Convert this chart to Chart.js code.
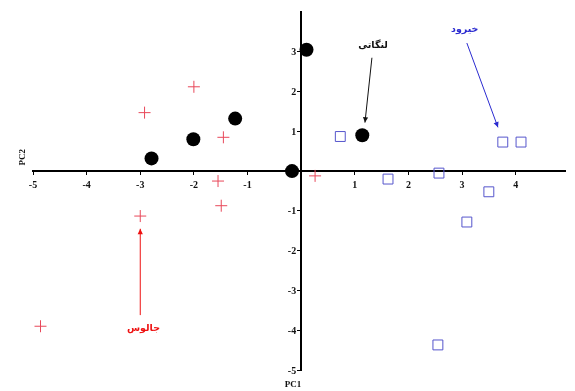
<!DOCTYPE html>
<html>
<head>
<meta charset="utf-8">
<script src="https://cdn.jsdelivr.net/npm/chart.js@4.4.0/dist/chart.umd.min.js"></script>
<style>
  html, body { margin: 0; padding: 0; background: #fff; }
  #wrap { width: 575px; height: 391px; }
</style>
</head>
<body>
<div id="wrap"><canvas id="c" width="575" height="391"></canvas></div>
<script>
// Data (PC1, PC2)
const blackX = [0.10, 1.14, -0.17, -1.23, -2.01, -2.79];
const blackY = [3.05, 0.90, 0.00, 1.32, 0.80, 0.32];

const redX = [-2.00, -2.92, -1.45, -1.55, -1.49, -3.00, -4.86, 0.26];
const redY = [2.12, 1.47, 0.85, -0.25, -0.87, -1.13, -3.90, -0.12];

const blueX = [0.73, 1.62, 2.57, 3.50, 3.76, 4.10, 3.09, 2.55];
const blueY = [0.87, -0.20, -0.05, -0.52, 0.73, 0.73, -1.28, -4.37];

// tick values shown on the axes
const xTickValues = [-5, -4, -3, -2, -1, 0, 1, 2, 3, 4];
const yTickValues = [-5, -4, -3, -2, -1, 0, 1, 2, 3];

const groupLabels = ['لنگاتی', 'خیرود', 'جالوس'];
const labelColors = ['#111111', '#2b2bd0', '#ee1111'];
// label anchor (data units) and arrow from -> to (data units)
const labelX = [1.34, 3.05, -2.94];
const labelY = [3.15, 3.55, -3.95];
const arrowFromX = [1.32, 3.09, -3.00];
const arrowFromY = [2.85, 3.22, -3.62];
const arrowToX = [1.19, 3.67, -3.00];
const arrowToY = [1.22, 1.10, -1.45];

const axisTitleX = 'PC1';
const axisTitleY = 'PC2';

function pts(xs, ys) { return xs.map((x, i) => ({x: x, y: ys[i]})); }

const tickFontCss = 'bold 10px "Liberation Serif", serif';

const annot = {
  id: 'annot',
  afterDatasetsDraw(chart) {
    const ctx = chart.ctx;
    const sx = chart.scales.x, sy = chart.scales.y;
    ctx.save();
    // y tick labels, right-aligned just left of the vertical axis
    ctx.fillStyle = '#111';
    ctx.font = tickFontCss;
    ctx.textAlign = 'right'; ctx.textBaseline = 'middle';
    const ax = sx.getPixelForValue(0);
    yTickValues.forEach(v => {
      if (v !== 0) ctx.fillText(String(v), ax - 5, sy.getPixelForValue(v) + 1);
    });
    for (let i = 0; i < groupLabels.length; i++) {
      const x1 = sx.getPixelForValue(arrowFromX[i]), y1 = sy.getPixelForValue(arrowFromY[i]);
      const x2 = sx.getPixelForValue(arrowToX[i]), y2 = sy.getPixelForValue(arrowToY[i]);
      ctx.strokeStyle = labelColors[i];
      ctx.fillStyle = labelColors[i];
      ctx.lineWidth = 1;
      ctx.beginPath(); ctx.moveTo(x1, y1); ctx.lineTo(x2, y2); ctx.stroke();
      const a = Math.atan2(y2 - y1, x2 - x1), L = 6, w = 0.45;
      ctx.beginPath();
      ctx.moveTo(x2, y2);
      ctx.lineTo(x2 - L * Math.cos(a - w), y2 - L * Math.sin(a - w));
      ctx.lineTo(x2 - L * Math.cos(a + w), y2 - L * Math.sin(a + w));
      ctx.closePath(); ctx.fill();
      ctx.font = 'bold 9.5px "DejaVu Sans", "Noto Sans", sans-serif';
      ctx.textAlign = 'center'; ctx.textBaseline = 'middle';
      ctx.direction = 'rtl';
      ctx.fillText(groupLabels[i], sx.getPixelForValue(labelX[i]), sy.getPixelForValue(labelY[i]));
      ctx.direction = 'ltr';
    }
    // axis titles
    ctx.fillStyle = '#111';
    ctx.font = 'bold 9px "Liberation Serif", serif';
    ctx.textAlign = 'center'; ctx.textBaseline = 'middle';
    ctx.fillText(axisTitleX, sx.getPixelForValue(-0.15), chart.height - 6);
    ctx.translate(23, sy.getPixelForValue(0.35));
    ctx.rotate(-Math.PI / 2);
    ctx.fillText(axisTitleY, 0, 0);
    ctx.restore();
  }
};

const tickFont = { family: '"Liberation Serif", serif', size: 10, weight: 'bold' };

new Chart(document.getElementById('c'), {
  type: 'scatter',
  data: {
    datasets: [
      { data: pts(blackX, blackY), pointStyle: 'circle', pointRadius: 7, backgroundColor: '#000', borderColor: '#000', borderWidth: 0 },
      { data: pts(redX, redY), pointStyle: 'cross', pointRadius: 6, borderColor: '#e8485a', borderWidth: 1, backgroundColor: 'transparent' },
      { data: pts(blueX, blueY), pointStyle: 'rect', pointRadius: 7, borderColor: '#5555cc', borderWidth: 1, backgroundColor: 'transparent' }
    ]
  },
  options: {
    responsive: false,
    animation: false,
    devicePixelRatio: 1,
    layout: { padding: { left: 33, right: 10, top: 12, bottom: 21 } },
    plugins: { legend: { display: false }, tooltip: { enabled: false } },
    scales: {
      x: {
        type: 'linear', min: -5, max: 4.92,
        position: { y: 0 },
        afterBuildTicks: s => { s.ticks = xTickValues.map(v => ({ value: v })); },
        grid: { display: true, drawOnChartArea: false, drawTicks: true, tickLength: 3, tickColor: '#000' },
        border: { display: true, color: '#000', width: 2 },
        ticks: { color: '#111', font: tickFont, padding: 5,
          callback: v => (v === 0 ? '' : String(v)) }
      },
      y: {
        type: 'linear', min: -5, max: 4,
        position: { x: 0 },
        afterBuildTicks: s => { s.ticks = yTickValues.map(v => ({ value: v })); },
        grid: { display: true, drawOnChartArea: false, drawTicks: true, tickLength: 3, tickColor: '#000' },
        border: { display: true, color: '#000', width: 2 },
        ticks: { color: '#111', font: tickFont, padding: 5,
          callback: () => '' }
      }
    }
  },
  plugins: [annot]
});
</script>
</body>
</html>
